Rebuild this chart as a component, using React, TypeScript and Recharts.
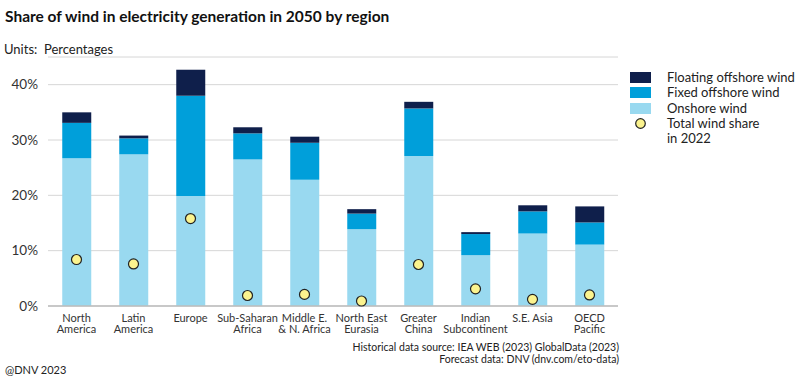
import React from "react";
import { ComposedChart, Bar, Line, XAxis, YAxis, CartesianGrid } from "recharts";

const regions = [
  "North America",
  "Latin America",
  "Europe",
  "Sub-Saharan Africa",
  "Middle E. & N. Africa",
  "North East Eurasia",
  "Greater China",
  "Indian Subcontinent",
  "S.E. Asia",
  "OECD Pacific",
];
const regionLines: string[][] = [
  ["North", "America"],
  ["Latin", "America"],
  ["Europe"],
  ["Sub-Saharan", "Africa"],
  ["Middle E.", "& N. Africa"],
  ["North East", "Eurasia"],
  ["Greater", "China"],
  ["Indian", "Subcontinent"],
  ["S.E. Asia"],
  ["OECD", "Pacific"],
];
const onshore = [26.7, 27.4, 19.9, 26.5, 22.8, 13.9, 27.1, 9.2, 13.1, 11.1];
const fixedOffshore = [6.4, 2.9, 18.1, 4.7, 6.7, 2.8, 8.6, 3.8, 4.0, 4.0];
const floatingOffshore = [1.9, 0.5, 4.7, 1.1, 1.1, 0.8, 1.2, 0.35, 1.1, 2.9];
const share2022 = [8.4, 7.6, 15.8, 1.9, 2.1, 0.9, 7.5, 3.1, 1.2, 2.0];
const yTicks = [0, 10, 20, 30, 40];

const COLORS = {
  floating: "#0f1f4b",
  fixed: "#009fda",
  onshore: "#99d9f0",
  dot: "#fbf38e",
};

const data = regions.map((r, i) => ({
  region: r,
  onshore: onshore[i],
  fixed: fixedOffshore[i],
  floating: floatingOffshore[i],
  share: share2022[i],
}));

const FONT = "Lato, 'Noto Sans', sans-serif";

const XTick = (props: any) => {
  const { x, y, payload } = props;
  const lines = regionLines[regions.indexOf(payload.value)] || [payload.value];
  return (
    <text x={x} y={y} textAnchor="middle" fill="#333" fontSize={11} fontFamily={FONT}>
      {lines.map((l, i) => (
        <tspan key={i} x={x} dy={i === 0 ? 7.5 : 11.7}>
          {l}
        </tspan>
      ))}
    </text>
  );
};

const legendItems = [
  { label: ["Floating offshore wind"], color: COLORS.floating, type: "rect" },
  { label: ["Fixed offshore wind"], color: COLORS.fixed, type: "rect" },
  { label: ["Onshore wind"], color: COLORS.onshore, type: "rect" },
  { label: ["Total wind share", "in 2022"], color: COLORS.dot, type: "dot" },
];

const LegendBlock = () => (
  <div style={{ position: "absolute", left: 630, top: 70, fontFamily: FONT, fontSize: 13, color: "#222" }}>
    {legendItems.map((it, i) => (
      <div key={i} style={{ display: "flex", alignItems: "flex-start", height: it.label.length > 1 ? 30 : 15.3 }}>
        <div style={{ width: 37, height: 15, position: "relative", flex: "none" }}>
          {it.type === "rect" ? (
            <div style={{ position: "absolute", left: 0, top: 2, width: 21, height: 11, background: it.color }} />
          ) : (
            <svg width={22} height={15} style={{ position: "absolute", left: 0, top: 0 }}>
              <circle cx={10.5} cy={7.5} r={4.8} fill={it.color} stroke="#222" strokeWidth={1.2} />
            </svg>
          )}
        </div>
        <div style={{ lineHeight: "15px", whiteSpace: "nowrap" }}>
          {it.label.map((l, j) => (
            <div key={j}>{l}</div>
          ))}
        </div>
      </div>
    ))}
  </div>
);

export default function App() {
  return (
    <div style={{ position: "fixed", left: 0, top: 0, width: 800, height: 383, background: "#fff", fontFamily: FONT }}>
      <div style={{ position: "absolute", left: 5, top: 7, fontSize: 15.5, fontWeight: 700, color: "#111", whiteSpace: "nowrap" }}>
        Share of wind in electricity generation in 2050 by region
      </div>
      <div style={{ position: "absolute", left: 4, top: 41, fontSize: 13, color: "#222", whiteSpace: "nowrap" }}>
        Units:&nbsp; Percentages
      </div>
      <ComposedChart
        width={800}
        height={383}
        data={data}
        margin={{ top: 57, right: 182, bottom: 0, left: 0 }}
        barCategoryGap="25%"
      >
        <CartesianGrid vertical={false} stroke="#d6d6d6" strokeWidth={1} />
        <XAxis
          dataKey="region"
          interval={0}
          tick={<XTick />}
          tickLine={false}
          axisLine={{ stroke: "#bdbdbd", strokeWidth: 1.5 }}
          height={77}
        />
        <YAxis
          domain={[0, 45]}
          ticks={yTicks}
          width={48}
          tickLine={false}
          axisLine={false}
          tickSize={0}
          tickMargin={10}
          tickFormatter={(v: number) => `${v}%`}
          tick={{ fill: "#333", fontSize: 13.5, fontFamily: FONT }}
        />
        <Bar dataKey="onshore" stackId="a" fill={COLORS.onshore} isAnimationActive={false} />
        <Bar dataKey="fixed" stackId="a" fill={COLORS.fixed} isAnimationActive={false} />
        <Bar dataKey="floating" stackId="a" fill={COLORS.floating} isAnimationActive={false} />
        <Line
          dataKey="share"
          stroke="none"
          isAnimationActive={false}
          dot={{ r: 5, fill: COLORS.dot, stroke: "#222", strokeWidth: 1.2 }}
          activeDot={false}
        />
      </ComposedChart>
      <LegendBlock />
      <div style={{ position: "absolute", right: 181, top: 341, fontSize: 10.5, color: "#222", textAlign: "right", lineHeight: "12px", whiteSpace: "nowrap" }}>
        <div>Historical data source: IEA WEB (2023) GlobalData (2023)</div>
        <div>Forecast data: DNV (dnv.com/eto-data)</div>
      </div>
      <div style={{ position: "absolute", left: 5, top: 363, fontSize: 11, color: "#222", whiteSpace: "nowrap" }}>
        @DNV 2023
      </div>
    </div>
  );
}
